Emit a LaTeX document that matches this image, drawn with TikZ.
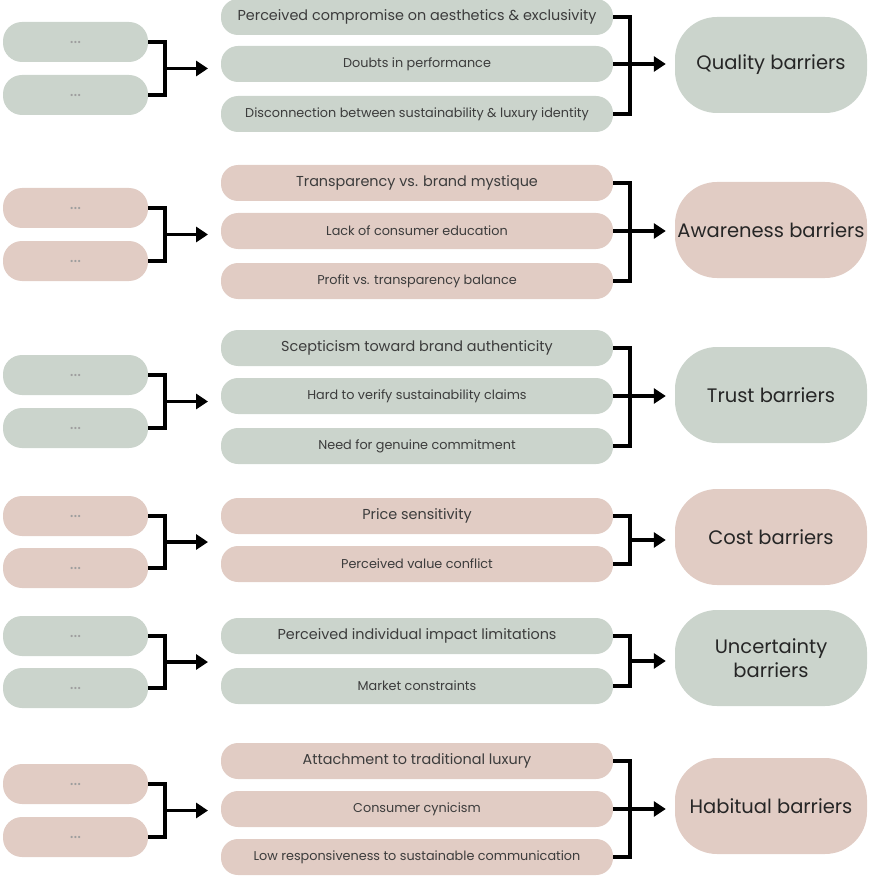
\documentclass[tikz,border=0pt]{standalone}
\usepackage{fontspec}
\setmainfont{Poppins}
\usepackage{tikz}
\definecolor{sage}{RGB}{203,212,204}
\definecolor{blush}{RGB}{225,204,196}
\definecolor{inkgray}{RGB}{60,60,60}
\usetikzlibrary{arrows.meta, positioning}

\begin{document}
\begin{tikzpicture}[x=1pt, y=-1pt,
        >={Triangle[length=12pt,width=15pt]},   %Pfeilspitzen
        lbox/.style={rounded corners=19pt, minimum width=145pt, minimum height=40pt, inner sep=0pt,
            font=\fontsize{18}{18}\selectfont, text=inkgray!50},
        mbox/.style={rounded corners=17pt, minimum width=392pt, minimum height=36pt, inner sep=0pt,
            font=\fontsize{14.4}{16}\selectfont, text=inkgray},
        msmall/.style={mbox, font=\fontsize{12.8}{14}\selectfont},
        rbox/.style={rounded corners=42pt, minimum width=192pt, minimum height=96pt, inner sep=0pt,
            align=center, font=\fontsize{19.5}{24}\selectfont, text=black!85},
        bar/.style={line width=3.6pt, black},
        arr/.style={line width=3.6pt, black, ->}]
        % Bildbereich
        \useasboundingbox (0,0) rectangle (868,877);
        %Gruppe 1: Quality
        \node[lbox, fill=sage] (q1) at (75.5,42) {...};
        \node[lbox, fill=sage] (q2) at (75.5,95) {...};
        \node[mbox, fill=sage] (qa) at (417,17) {Perceived compromise on aesthetics \& exclusivity};
        \node[msmall, fill=sage] (qb) at (417,64) {Doubts in performance};
        \node[msmall, fill=sage] (qc) at (417,114) {Disconnection between sustainability \& luxury identity};
        \node[rbox, fill=sage] (qr) at (771,65) {Quality barriers};
        \coordinate (qj) at (165,68.5);
        \coordinate (qt) at (208,68.5);
        \coordinate (qk) at (630,64);
        \draw[bar] (q1.east) -| (qj) |- (q2.east);
        \draw[arr] (qj) -- (qt);
        \draw[bar] (qa.east) -| (qk) |- (qc.east);
        \draw[bar] (qb.east) -- (qk);
        \draw[arr, shorten >=9pt] (qk) -- (qk -| qr.west);
        %Gruppe 2: Awareness
        \node[lbox, fill=blush] (a1) at (75.5,208) {...};
        \node[lbox, fill=blush] (a2) at (75.5,261) {...};
        \node[mbox, fill=blush] (aa) at (417,183) {Transparency vs. brand mystique};
        \node[msmall, fill=blush] (ab) at (417,231) {Lack of consumer education};
        \node[msmall, fill=blush] (ac) at (417,281) {Profit vs. transparency balance};
        \node[rbox, fill=blush] (ar) at (771,230) {Awareness barriers};
        \coordinate (aj) at (165,234.5);
        \coordinate (at) at (208,234.5);
        \coordinate (ak) at (630,231);
        \draw[bar] (a1.east) -| (aj) |- (a2.east);
        \draw[arr] (aj) -- (at);
        \draw[bar] (aa.east) -| (ak) |- (ac.east);
        \draw[bar] (ab.east) -- (ak);
        \draw[arr, shorten >=9pt] (ak) -- (ak -| ar.west);
        %Gruppe 3: Trust
        \node[lbox, fill=sage] (t1) at (75.5,375) {...};
        \node[lbox, fill=sage] (t2) at (75.5,428) {...};
        \node[mbox, fill=sage] (ta) at (417,348) {Scepticism toward brand authenticity};
        \node[msmall, fill=sage] (tb) at (417,396) {Hard to verify sustainability claims};
        \node[msmall, fill=sage] (tc) at (417,446) {Need for genuine commitment};
        \node[rbox, fill=sage] (tr) at (771,395) {Trust barriers};
        \coordinate (tj) at (165,401.5);
        \coordinate (tt) at (208,401.5);
        \coordinate (tk) at (630,396);
        \draw[bar] (t1.east) -| (tj) |- (t2.east);
        \draw[arr] (tj) -- (tt);
        \draw[bar] (ta.east) -| (tk) |- (tc.east);
        \draw[bar] (tb.east) -- (tk);
        \draw[arr, shorten >=9pt] (tk) -- (tk -| tr.west);
        %Gruppe 4: Cost
        \node[lbox, fill=blush] (c1) at (75.5,516) {...};
        \node[lbox, fill=blush] (c2) at (75.5,568) {...};
        \node[mbox, fill=blush] (ca) at (417,516) {Price sensitivity};
        \node[msmall, fill=blush] (cb) at (417,564) {Perceived value conflict};
        \node[rbox, fill=blush] (cr) at (771,537) {Cost barriers};
        \coordinate (cj) at (165,542);
        \coordinate (ct) at (208,542);
        \coordinate (ck) at (630,540);
        \draw[bar] (c1.east) -| (cj) |- (c2.east);
        \draw[arr] (cj) -- (ct);
        \draw[bar] (ca.east) -| (ck) |- (cb.east);
        \draw[arr, shorten >=9pt] (ck) -- (ck -| cr.west);
        %Gruppe 5: Uncertainty
        \node[lbox, fill=sage] (u1) at (75.5,636) {...};
        \node[lbox, fill=sage] (u2) at (75.5,688) {...};
        \node[mbox, fill=sage] (ua) at (417,636) {Perceived individual impact limitations};
        \node[msmall, fill=sage] (ub) at (417,686) {Market constraints};
        \node[rbox, fill=sage] (ur) at (771,658) {Uncertainty\\barriers};
        \coordinate (uj) at (165,662);
        \coordinate (ut) at (208,662);
        \coordinate (uk) at (630,661);
        \draw[bar] (u1.east) -| (uj) |- (u2.east);
        \draw[arr] (uj) -- (ut);
        \draw[bar] (ua.east) -| (uk) |- (ub.east);
        \draw[arr, shorten >=9pt] (uk) -- (uk -| ur.west);
        %Gruppe 6: Habitual
        \node[lbox, fill=blush] (h1) at (75.5,784) {...};
        \node[lbox, fill=blush] (h2) at (75.5,837) {...};
        \node[mbox, fill=blush] (ha) at (417,761) {Attachment to traditional luxury};
        \node[msmall, fill=blush] (hb) at (417,809) {Consumer cynicism};
        \node[msmall, fill=blush] (hc) at (417,857) {Low responsiveness to sustainable communication};
        \node[rbox, fill=blush] (hr) at (771,806) {Habitual barriers};
        \coordinate (hj) at (165,810.5);
        \coordinate (ht) at (208,810.5);
        \coordinate (hk) at (630,809);
        \draw[bar] (h1.east) -| (hj) |- (h2.east);
        \draw[arr] (hj) -- (ht);
        \draw[bar] (ha.east) -| (hk) |- (hc.east);
        \draw[bar] (hb.east) -- (hk);
        \draw[arr, shorten >=9pt] (hk) -- (hk -| hr.west);
    \end{tikzpicture}
\end{document}
